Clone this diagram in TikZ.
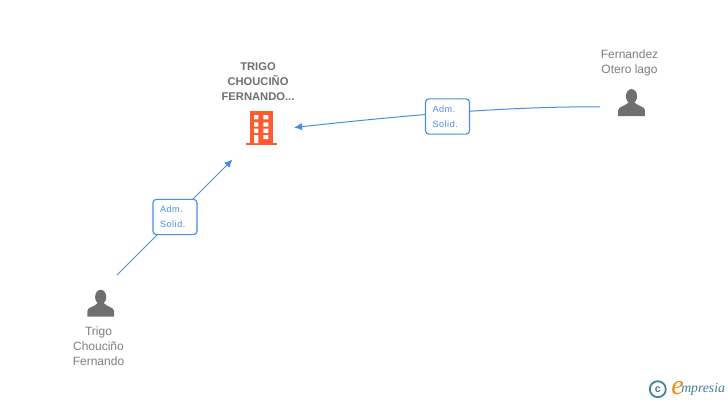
\documentclass[tikz,border=0pt]{standalone}
\usepackage{fontspec}
\setmainfont{Liberation Sans}
\newfontfamily\logofont{Liberation Serif}
\newfontfamily\rolefont[LetterSpace=6]{Liberation Sans}
\definecolor{edgeblue}{HTML}{4A8CE3}
\definecolor{txtgrey}{HTML}{7E7E7E}
\definecolor{icongrey}{HTML}{6F6F6F}
\definecolor{bldg}{HTML}{FF5B2E}
\definecolor{logoteal}{HTML}{3F7F96}
\definecolor{logoorange}{HTML}{F08A1D}
\usetikzlibrary{arrows.meta}
\tikzset{
  conn/.style={draw=edgeblue,line width=0.75pt},
  arrowconn/.style={conn,-{Latex[length=6pt,width=5.5pt]}},
  rolebox/.style={draw=edgeblue,line width=0.85pt,rounded corners=2.6pt,fill=white,minimum width=33pt,minimum height=26.5pt,inner sep=0pt,align=left,text=edgeblue,font=\rolefont\fontsize{6.8pt}{11.2pt}\selectfont,text width=22.5pt},
  persontxt/.style={align=center,text=txtgrey,font=\fontsize{9pt}{11.3pt}\selectfont,inner sep=0pt},
  titletxt/.style={align=center,text=icongrey,font=\bfseries\fontsize{8.4pt}{11.3pt}\selectfont,inner sep=0pt},
  anchorpt/.style={inner sep=0pt,minimum size=0pt}
}
\newcommand{\personicon}[2]{%
  \fill[icongrey] (#1,#2+7) ellipse [x radius=5.6,y radius=7.2];
  \fill[icongrey] (#1-13.4,#2+26.7) -- (#1-13.4,#2+21) .. controls (#1-13.4,#2+17) and (#1-6,#2+17) .. (#1-3,#2+13) -- (#1+3,#2+13) .. controls (#1+6,#2+17) and (#1+13.4,#2+17) .. (#1+13.4,#2+21) -- (#1+13.4,#2+26.7) -- cycle;
}
\begin{document}
\begin{tikzpicture}[x=0.75pt,y=-0.75pt]
\useasboundingbox (0,0) rectangle (728,400);
\fill[white] (0,0) rectangle (728,400);
% company
\node[titletxt] (title) at (258,82) {TRIGO\\CHOUCIÑO\\FERNANDO...};
\fill[bldg] (250,111) rectangle (272.7,143.5);
\fill[bldg] (245.7,143) rectangle (277,145.2);
\fill[white] (254,115) rectangle (258.3,119.3) (263.3,115) rectangle (268.3,119.3)
  (254,122.3) rectangle (258.3,126.7) (263.3,122.3) rectangle (268.3,126.7)
  (254,128.6) rectangle (258.3,132.8) (263.3,128.6) rectangle (268.3,132.8)
  (254,135) rectangle (258.3,143) (263.3,135) rectangle (268.3,139);
\node[anchorpt] (company) at (258,128) {};
\coordinate (compR) at (294,127.5);
\coordinate (compB) at (232.5,159.5);
% persons
\personicon{631.5}{89.3}
\personicon{100.7}{290}
\node[persontxt] (fern) at (629.5,63) {Fernandez\\Otero lago};
\node[persontxt] (trigo) at (98.5,346) {Trigo\\Chouciño\\Fernando};
\coordinate (fernL) at (600,106.8);
\coordinate (trigoT) at (117,275);
% connectors
\draw[arrowconn] (fernL) .. controls (500,106.5) and (400,116) .. (compR);
\draw[arrowconn] (trigoT) -- (compB);
% role labels
\node[rolebox] (r1) at (447.5,116.5) {Adm.\\Solid.};
\node[rolebox] (r2) at (175,217) {Adm.\\Solid.};
% logo
\node[circle,draw=logoteal,line width=1.3pt,minimum size=12pt,inner sep=0pt,text=logoteal,font=\bfseries\fontsize{8pt}{8pt}\selectfont] (copy) at (657.8,389.2) {c};
\node[inner sep=0pt,anchor=base west,text=logoorange,font=\logofont\itshape\fontsize{21pt}{21pt}\selectfont] (loge) at (671,394.5) {e};
\node[inner sep=0pt,anchor=base west,text=logoteal,font=\logofont\itshape\fontsize{10.3pt}{10.3pt}\selectfont] (logt) at (681,392.6) {mpresia};
\end{tikzpicture}
\end{document}
